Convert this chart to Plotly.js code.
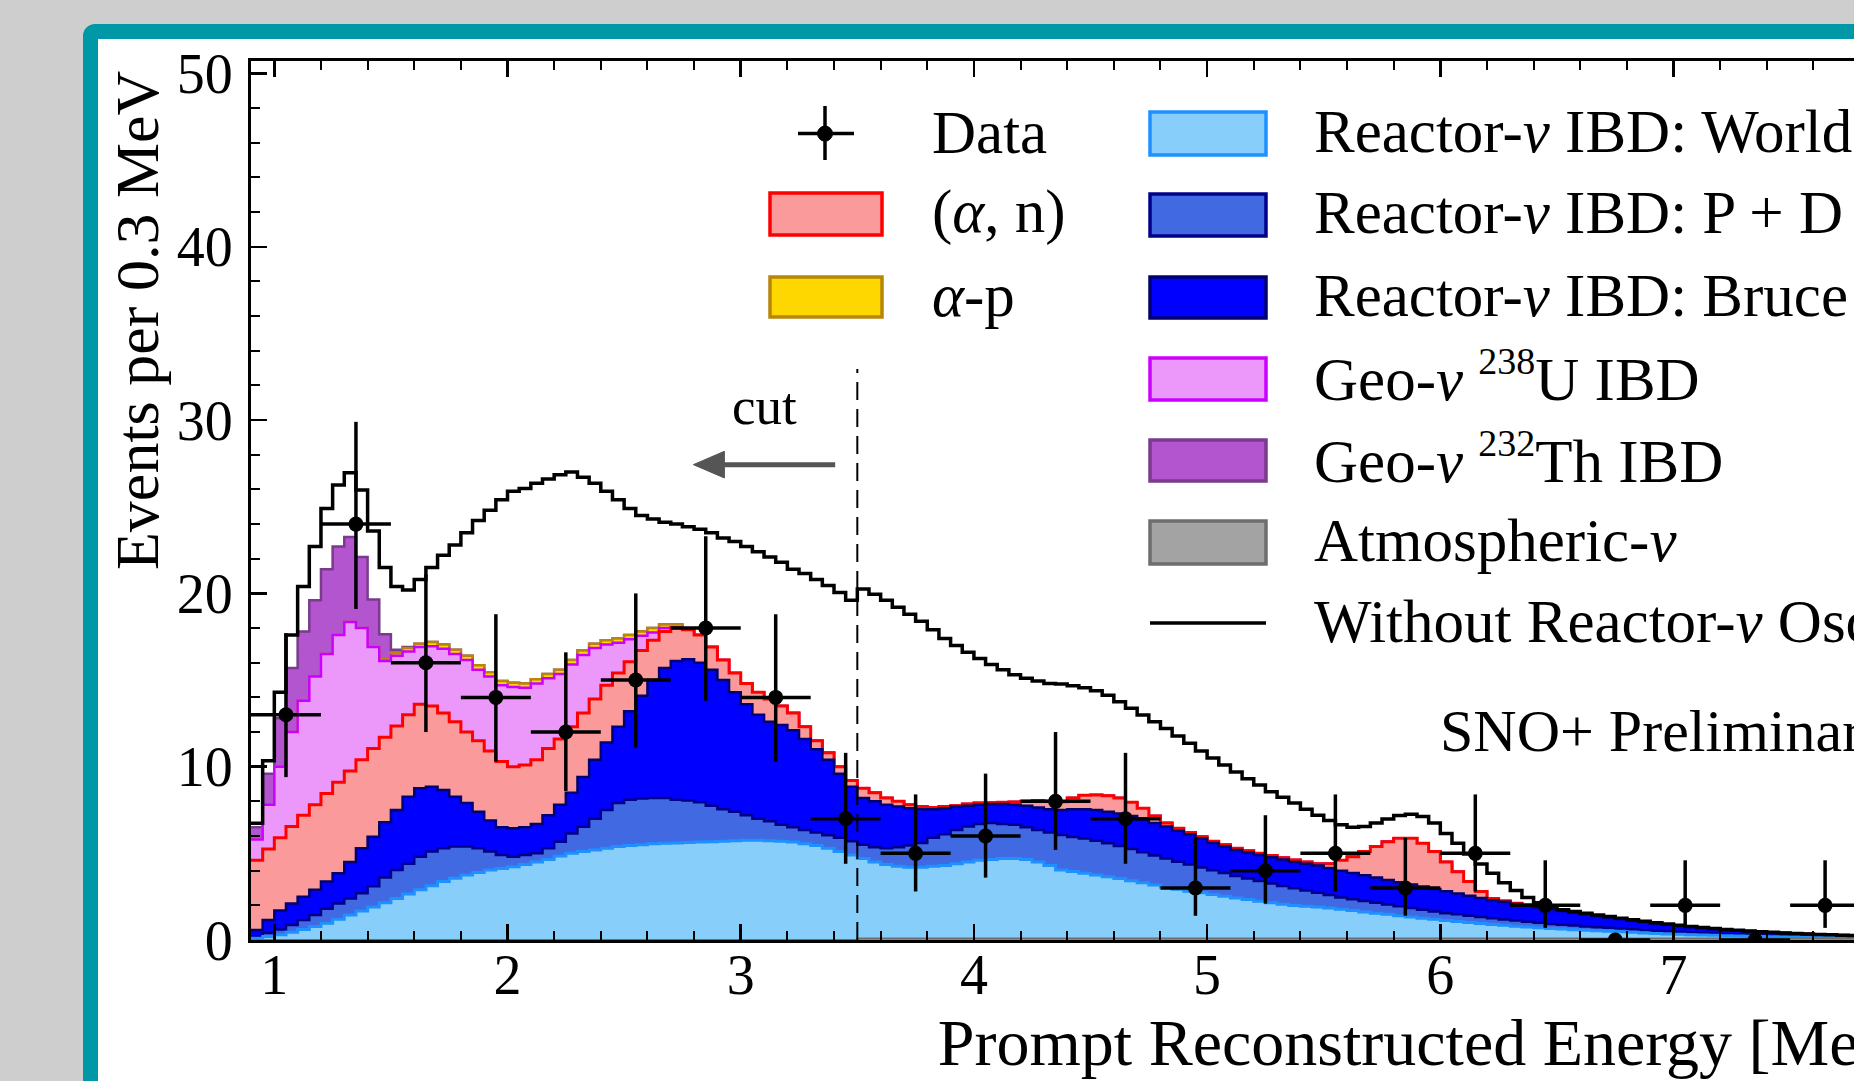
<!DOCTYPE html>
<html><head><meta charset="utf-8">
<script src="https://cdn.plot.ly/plotly-3.0.1.min.js"></script>
<style>
html,body{margin:0;padding:0;width:1854px;height:1081px;overflow:hidden;background:#cecece;}
#frame{position:absolute;left:83px;top:24px;width:2700px;height:1300px;border:15px solid #0097a7;border-radius:12px;background:#fff;}
#chart{position:absolute;left:0;top:0;width:2635px;height:1081px;}
</style></head><body>
<div id="frame"></div><div id="chart"></div>
<script>
// ---- Binning: 0.05 MeV bins, lower edges from 0.90 MeV ----
const NB = 138;
const binLow = Array.from({length: NB}, (_, i) => Math.round((0.90 + 0.05 * i) * 100) / 100);
const binWidth = 0.05;

// ---- Stacked MC components (events per bin) ----
const atmNu = [0,0,0,0,0,0,0,0,0,0, 0,0,0,0,0,0,0,0,0,0, 0,0,0,0,0,0,0,0,0,0,
 0,0,0,0,0,0,0,0,0,0, 0,0,0,0,0,0,0,0,0,0, 0,0,
 0.08,0.08,0.08,0.08,0.08,0.08,0.08,0.08,0.08,0.08, 0.08,0.08,0.08,0.08,0.08,0.08,0.08,0.08,0.08,0.08,
 0.08,0.08,0.08,0.08,0.08,0.08,0.08,0.08,0.08,0.08, 0.08,0.08,0.08,0.08,0.08,0.08,0.08,0.08,0.08,0.08,
 0.08,0.08,0.08,0.08,0.08,0.08,0.08,0.08,0.08,0.08, 0.08,0.08,0.08,0.08,0.08,0.08,0.08,0.08,0.08,0.08,
 0.08,0.08,0.08,0.08,0.08,0.08,0.08,0.08,0.08,0.08, 0.08,0.08,0.08,0.08,0.08,0.08,0.08,0.08,0.08,0.08,
 0.08,0.08,0.08,0.08,0.08,0.08];

const reactorWorld = [0.10,0.20,0.30,0.45,0.60,0.78,0.96,1.20,1.44,1.67,
 1.90,2.15,2.40,2.65,2.90,3.13,3.37,3.56,3.75,3.90,
 4.04,4.13,4.23,4.35,4.50,4.65,4.85,5.00,5.10,5.20,
 5.30,5.40,5.45,5.50,5.55,5.58,5.60,5.62,5.65,5.67,
 5.70,5.72,5.75,5.75,5.72,5.70,5.65,5.55,5.45,5.30,
 5.10,4.90,4.62,4.42,4.27,4.17,4.12,4.12,4.17,4.22,
 4.32,4.42,4.52,4.57,4.62,4.62,4.57,4.42,4.22,3.96,
 3.87,3.77,3.67,3.57,3.47,3.34,3.22,3.09,2.97,2.85,
 2.74,2.64,2.54,2.44,2.34,2.25,2.16,2.07,1.99,1.91,
 1.87,1.82,1.77,1.70,1.62,1.54,1.47,1.40,1.32,1.25,
 1.18,1.12,1.05,0.99,0.93,0.87,0.82,0.77,0.72,0.67,
 0.63,0.59,0.55,0.51,0.48,0.45,0.42,0.39,0.36,0.33,
 0.30,0.27,0.25,0.23,0.21,0.19,0.17,0.15,0.13,0.12,
 0.11,0.10,0.09,0.08,0.07,0.06,0.05,0.04];

const reactorPD = [0.10,0.20,0.30,0.42,0.55,0.66,0.84,0.90,0.96,1.03,
 1.20,1.45,1.64,1.75,1.90,1.97,1.93,1.84,1.65,1.40,
 1.06,0.77,0.57,0.55,0.50,0.65,0.82,1.15,1.44,1.80,
 2.20,2.50,2.65,2.67,2.65,2.62,2.50,2.43,2.30,2.08,
 1.85,1.68,1.45,1.25,1.13,0.95,0.85,0.80,0.75,0.75,
 0.80,0.80,0.80,0.85,0.95,1.10,1.25,1.40,1.65,1.80,
 1.95,2.05,2.10,2.10,2.00,1.95,1.85,1.85,1.90,2.02,
 2.00,2.00,1.97,1.93,1.87,1.83,1.77,1.71,1.65,1.59,
 1.53,1.46,1.40,1.34,1.28,1.22,1.16,1.11,1.05,0.99,
 0.90,0.82,0.75,0.67,0.65,0.63,0.60,0.57,0.55,0.52,
 0.49,0.45,0.42,0.41,0.39,0.37,0.35,0.33,0.32,0.30,
 0.28,0.26,0.25,0.24,0.22,0.21,0.20,0.19,0.18,0.17,
 0.16,0.15,0.14,0.13,0.12,0.11,0.10,0.09,0.09,0.08,
 0.07,0.06,0.05,0.04,0.04,0.04,0.04,0.04];

const reactorBruce = [0.38,0.75,1.10,1.23,1.35,1.46,1.57,1.75,2.10,2.60,
 2.86,3.20,3.46,3.87,3.95,3.75,3.35,2.87,2.50,2.10,
 1.80,1.60,1.65,1.60,1.70,1.90,2.13,2.35,2.86,3.40,
 3.90,4.40,5.10,5.93,6.80,7.50,8.00,8.15,8.05,7.85,
 7.45,6.90,6.40,6.00,5.75,5.75,5.60,5.25,4.80,4.35,
 3.70,3.15,2.70,2.65,2.50,2.35,2.15,1.95,1.65,1.50,
 1.35,1.20,1.10,1.10,1.15,1.15,1.25,1.30,1.35,1.44,
 1.60,1.70,1.78,1.82,1.88,1.90,1.88,1.87,1.85,1.78,
 1.75,1.67,1.58,1.54,1.50,1.50,1.50,1.52,1.53,1.52,
 1.55,1.58,1.55,1.55,1.52,1.48,1.45,1.41,1.38,1.35,
 1.33,1.30,1.27,1.20,1.15,1.10,1.05,1.02,0.96,0.93,
 0.89,0.85,0.80,0.75,0.70,0.65,0.60,0.55,0.50,0.46,
 0.42,0.38,0.34,0.31,0.28,0.25,0.23,0.21,0.19,0.17,
 0.15,0.14,0.13,0.12,0.11,0.10,0.09,0.08];

const alphaN = [4.02,4.10,4.20,4.45,4.70,4.90,5.08,5.25,5.25,5.10,
 5.09,4.90,4.85,4.73,4.85,4.65,4.45,4.33,4.10,4.10,
 4.00,3.80,3.55,3.60,3.70,3.85,3.80,3.80,3.70,3.50,
 3.30,3.10,2.85,2.60,2.30,2.10,1.90,1.70,1.60,1.30,
 1.15,1.10,1.20,1.30,1.30,1.10,1.00,0.70,0.50,0.40,
 0.40,0.35,0.55,0.50,0.40,0.30,0.20,0.15,0.10,0.10,
 0.05,0.10,0.10,0.07,0.10,0.17,0.25,0.40,0.45,0.48,
 0.65,0.80,0.87,0.93,0.90,0.80,0.65,0.40,0.20,0.15,
 0.10,0.11,0.10,0.10,0.10,0.10,0.10,0.10,0.10,0.12,
 0.10,0.10,0.25,0.60,0.93,1.37,1.80,2.21,2.54,2.67,
 2.50,2.15,1.68,1.26,0.82,0.38,0.10,0.05,0.04,0.04,
 0.04,0.04,0.04,0.04,0.04,0.03,0.03,0.03,0.03,0.02,
 0.02,0.02,0.02,0.02,0.02,0.02,0.02,0.02,0.02,0.02,
 0.02,0.02,0.02,0.02,0.01,0.01,0.01,0.01];

// components that only exist at low energy (bins beyond the list are empty)
const geoU = [1.20,2.55,4.10,5.45,6.60,7.40,8.05,8.50,8.60,7.60,
 5.85,4.40,4.05,3.65,3.30,3.45,3.70,3.90,4.15,4.10,
 4.30,4.40,4.60,4.45,4.40,4.05,3.75,3.60,3.35,2.95,
 2.35,1.75,1.30,0.85,0.45,0.20,0.05,0.00];
const alphaP = [0,0,0,0,0,0,0,0,0,0,
 0.05,0.10,0.15,0.20,0.20,0.25,0.25,0.25,0.25,0.25,
 0.25,0.25,0.25,0.25,0.25,0.25,0.25,0.25,0.25,0.25,
 0.25,0.25,0.25,0.25,0.25,0.20,0.15,0.05];
const geoTh = [0.70,1.80,2.80,3.70,4.00,4.40,4.90,5.10,4.90,4.10,2.70,1.45,0.20,0.05];

// total expectation without reactor oscillations
const noOsc = [6.73,10.35,14.30,17.60,20.40,22.70,24.90,26.25,26.96,25.96,
 23.60,21.50,20.40,20.20,20.80,21.50,22.20,22.80,23.50,24.20,
 24.80,25.40,25.90,26.06,26.35,26.60,26.85,27.00,26.70,26.35,
 25.90,25.40,24.90,24.50,24.30,24.10,24.00,23.85,23.70,23.50,
 23.20,23.00,22.70,22.40,22.10,21.80,21.40,21.15,20.80,20.45,
 20.05,19.60,20.25,19.95,19.60,19.20,18.80,18.40,17.90,17.40,
 17.00,16.60,16.25,15.90,15.60,15.30,15.10,14.95,14.80,14.77,
 14.67,14.56,14.38,14.13,13.75,13.37,12.98,12.60,12.20,11.77,
 11.35,10.90,10.50,10.10,9.70,9.30,8.94,8.56,8.23,7.90,
 7.55,7.20,6.90,6.65,6.50,6.55,6.75,6.98,7.18,7.25,
 7.12,6.75,6.15,5.58,4.96,4.38,3.85,3.30,2.85,2.45,
 2.15,1.90,1.74,1.64,1.54,1.44,1.35,1.26,1.17,1.08,
 1.00,0.92,0.85,0.78,0.72,0.66,0.61,0.56,0.52,0.48,
 0.44,0.41,0.38,0.35,0.32,0.30,0.28,0.26];

// ---- Data points (0.3 MeV bins) ----
const dataE = [1.05,1.35,1.65,1.95,2.25,2.55,2.85,3.15,3.45,3.75,4.05,4.35,4.65,4.95,5.25,5.55,5.85,6.15,6.45,6.75,7.05,7.35,7.65];
const dataN = [13,24,16,14,12,15,18,14,7,5,6,8,7,3,4,5,3,5,2,0,2,0,2];
const errHi = [4.7,5.9,5.1,4.8,4.6,5.0,5.3,4.8,3.8,3.4,3.6,4.0,3.8,2.9,3.2,3.4,2.9,3.4,2.6,0,2.6,0,2.6];
const errLo = [3.6,4.9,4.0,3.7,3.4,3.9,4.2,3.7,2.6,2.2,2.4,2.8,2.6,1.6,1.9,2.2,1.6,2.2,1.3,0,1.3,0,1.3];
const dataHalfBin = 0.15;

// ---- Labels ----
const cutEnergy = 3.5;
const SUP = n => '<sup><span style="font-size:38px">' + n + '</span></sup>';
const legendLabels = {
  data: 'Data', an: '(<i>α</i>, n)', ap: '<i>α</i>-p',
  world: 'Reactor-<i>ν</i> IBD: World', pd: 'Reactor-<i>ν</i> IBD: P + D',
  bruce: 'Reactor-<i>ν</i> IBD: Bruce', u: 'Geo-<i>ν</i> ' + SUP('238') + 'U IBD',
  th: 'Geo-<i>ν</i> ' + SUP('232') + 'Th IBD', atm: 'Atmospheric-<i>ν</i>',
  noosc: 'Without Reactor-<i>ν</i> Oscillations'
};

// ---- Styles ----
const FONT = 'Liberation Serif, Times New Roman, serif';
const sty = {
  atm:   {fill:'#a3a3a3', line:'#6e6e6e', w:2},
  world: {fill:'#87cefa', line:'#1e90ff', w:3},
  pd:    {fill:'#4169e1', line:'#00008b', w:2.5},
  bruce: {fill:'#0000ff', line:'#00006e', w:2.5},
  an:    {fill:'#fa9a9a', line:'#ff0000', w:3},
  u:     {fill:'#eb98fa', line:'#cc00ff', w:2.5},
  ap:    {fill:'#ffd700', line:'#b8860b', w:2.5},
  th:    {fill:'#b455d0', line:'#7a3a8e', w:2.5}
};

// ---- Build cumulative stack ----
const order = [['atm',atmNu],['world',reactorWorld],['pd',reactorPD],['bruce',reactorBruce],
               ['an',alphaN],['u',geoU],['ap',alphaP],['th',geoTh]];
const edges = binLow.concat([Math.round((binLow[NB-1] + binWidth)*100)/100]);
let run = new Array(NB).fill(0);
const cum = [];
order.forEach(([k, arr]) => {
  run = run.map((v, i) => v + (arr[i] || 0));
  cum.push([k, run.slice()]);
});
const stepY = a => a.concat([a[a.length-1]]);

const traces = [];
for (let j = cum.length - 1; j >= 0; j--) {
  const [k, y] = cum[j];
  traces.push({type:'scatter', mode:'lines', x: edges, y: stepY(y),
    line:{shape:'hv', color: sty[k].line, width: sty[k].w},
    fill:'tozeroy', fillcolor: sty[k].fill, hoverinfo:'skip', showlegend:false});
}
traces.push({type:'scatter', mode:'lines', x: edges, y: stepY(noOsc),
  line:{shape:'hv', color:'#000', width:3.5}, hoverinfo:'skip', showlegend:false});
traces.push({type:'scatter', mode:'markers', x: dataE, y: dataN,
  marker:{color:'#000', size:15},
  error_y:{type:'data', symmetric:false, array: errHi, arrayminus: errLo, color:'#000', thickness:3.5, width:0},
  error_x:{type:'constant', value: dataHalfBin, color:'#000', thickness:3.5, width:0},
  hoverinfo:'skip', showlegend:false});

// ---- Page-pixel helpers for the hand-drawn legend ----
const ML = 251, MT = 61, PW = 2364, PH = 879;
const X = p => (p - ML) / PW;
const Y = p => (MT + PH - p) / PH;

const shapes = [
  {type:'line', xref:'x', yref:'y', x0: cutEnergy, x1: cutEnergy, y0: 0, y1: 32.95,
   line:{color:'#000', width:2, dash:'18px,9px'}, layer:'above'},
  {type:'line', xref:'x', yref:'y', x0: 2.92, x1: 3.405, y0: 27.43, y1: 27.43, line:{color:'#555', width:5}, layer:'above'},
  {type:'path', xref:'x', yref:'y', path:'M 2.797 27.43 L 2.93 28.2 L 2.93 26.66 Z', fillcolor:'#555', line:{color:'#555', width:1}, layer:'above'}
];
const annotations = [];
function txt(t, x, y, size, anchor) {
  annotations.push({xref:'paper', yref:'paper', x: X(x), y: Y(y), text: t, showarrow:false,
    xanchor: anchor || 'left', yanchor:'middle', font:{family: FONT, size: size, color:'#000'}});
}
function box(x0, x1, y0, y1, s) {
  shapes.push({type:'rect', xref:'paper', yref:'paper', x0: X(x0), x1: X(x1), y0: Y(y1), y1: Y(y0),
    fillcolor: s.fill, line:{color: s.line, width: 3.5}, layer:'above'});
}
shapes.push({type:'line', xref:'paper', yref:'paper', x0: X(798), x1: X(854), y0: Y(133.6), y1: Y(133.6), line:{color:'#000', width:3.5}, layer:'above'});
shapes.push({type:'line', xref:'paper', yref:'paper', x0: X(825), x1: X(825), y0: Y(106), y1: Y(160), line:{color:'#000', width:3.5}, layer:'above'});
shapes.push({type:'circle', xref:'paper', yref:'paper', x0: X(817.5), x1: X(832.5), y0: Y(141.1), y1: Y(126.1), fillcolor:'#000', line:{color:'#000', width:1}, layer:'above'});
txt(legendLabels.data, 930, 132, 61);
box(770, 882, 193, 235, sty.an); txt(legendLabels.an, 930, 212, 61);
box(770, 882, 277, 317, sty.ap); txt(legendLabels.ap, 930, 295, 61);
const c2 = [['world',112,155],['pd',194,236],['bruce',277,318],['u',358,400],['th',440,481],['atm',521,564]];
c2.forEach(([k, y0, y1]) => { box(1150, 1266, y0, y1, sty[k]); txt(legendLabels[k], 1312, (y0+y1)/2 - 2, 61); });
shapes.push({type:'line', xref:'paper', yref:'paper', x0: X(1150), x1: X(1266), y0: Y(623), y1: Y(623), line:{color:'#000', width:3.5}, layer:'above'});
txt(legendLabels.noosc, 1312, 621, 61);
txt('SNO+ Preliminary', 1438, 731, 60);
txt('cut', 764, 406, 53, 'center');
annotations.push({xref:'paper', yref:'paper', x: X(137), y: Y(320), text:'Events per 0.3 MeV', textangle:-90,
  showarrow:false, xanchor:'center', yanchor:'middle', font:{family: FONT, size:62, color:'#000'}});

const axisCommon = {showgrid:false, zeroline:false, showline:true, linecolor:'#000', linewidth:3,
  mirror:'allticks', ticks:'inside', ticklen:16, tickwidth:2.5, tickcolor:'#000',
  tickfont:{family: FONT, size:56, color:'#000'}};

const layout = {
  width: 2635, height: 1081,
  margin:{l: ML, r: 20, t: MT, b: 1081 - MT - PH, pad:0},
  paper_bgcolor:'rgba(0,0,0,0)', plot_bgcolor:'#fff',
  showlegend:false,
  font:{family: FONT, color:'#000'},
  xaxis: Object.assign({}, axisCommon, {range:[0.9, 0.9 + PW/233.2], tick0:1, dtick:1, ticklabelstandoff:-16,
    minor:{tick0:1, dtick:0.2, ticks:'inside', ticklen:9, tickwidth:2, tickcolor:'#000'},
    title:{text:'Prompt Reconstructed Energy [MeV]', font:{family: FONT, size:66, color:'#000'}, standoff:13}}),
  yaxis: Object.assign({}, axisCommon, {range:[0, PH/17.33], tick0:0, dtick:10, ticklabelstandoff:4,
    minor:{tick0:0, dtick:2, ticks:'inside', ticklen:9, tickwidth:2, tickcolor:'#000'}}),
  shapes: shapes, annotations: annotations
};
Plotly.newPlot('chart', traces, layout, {staticPlot:true, displayModeBar:false});
</script></body></html>
